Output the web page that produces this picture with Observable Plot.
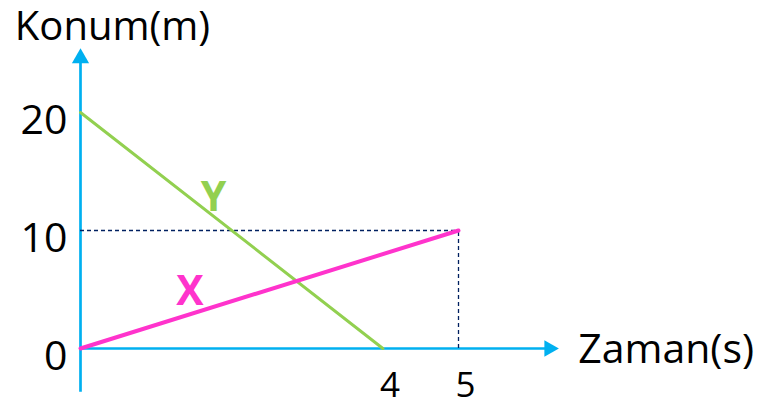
<!DOCTYPE html>
<html><head><meta charset="utf-8">
<script src="https://cdn.jsdelivr.net/npm/d3@7"></script>
<script src="https://cdn.jsdelivr.net/npm/@observablehq/plot@0.6"></script>
<style>body{margin:0;background:#fff} svg{display:block}</style>
</head><body><div id="chart"></div>
<script>
// Data
const timeX = [0, 5];
const posX = [0, 10];
const timeY = [0, 4];
const posY = [20, 0];
const xTickValues = [4, 5];
const yTickValues = [0, 10, 20];
const seriesNames = ["X", "Y"];
const xAxisTitle = "Zaman(s)";
const yAxisTitle = "Konum(m)";

const blue = "#00B0F0", green = "#92D050", pink = "#FF33CC", navy = "#002060";
const FONT = "'Open Sans', sans-serif";

const lineX = timeX.map((t, i) => ({t, p: posX[i]}));
const lineY = timeY.map((t, i) => ({t, p: posY[i]}));

// point along a line at fraction f
const along = (pts, f) => ({t: pts[0].t + (pts[1].t - pts[0].t) * f, p: pts[0].p + (pts[1].p - pts[0].p) * f});
const labelX = {...along(lineX, 0.3), name: seriesNames[0]};
const labelY = {...along(lineY, 0.44), name: seriesNames[1]};

// axis extents (layout)
const xEnd = 6.2, yEnd = 24.6, yStart = -3.7;
const xMax = d3.max(timeX), yMaxRef = posX[posX.length - 1];

const chart = Plot.plot({
  width: 761, height: 406,
  marginLeft: 80, marginRight: 303, marginTop: 112, marginBottom: 58,
  x: {domain: [0, 5], axis: null},
  y: {domain: [0, 20], axis: null},
  style: {fontFamily: FONT, background: "#fff"},
  marks: [
    // axes
    Plot.ruleY([0], {x1: 0, x2: xEnd, stroke: blue, strokeWidth: 2.7}),
    Plot.ruleX([0], {y1: yStart, y2: yEnd, stroke: blue, strokeWidth: 2.7}),
    Plot.dot([{x: 0, y: yEnd}], {x: "x", y: "y", symbol: "triangle", r: 6.4, fill: blue, stroke: "none"}),
    Plot.dot([{x: xEnd, y: 0}], {x: "x", y: "y", symbol: "triangle", r: 6.2, fill: blue, stroke: "none", rotate: 90}),
    // dashed guides
    Plot.ruleY([yMaxRef], {x1: 0, x2: xMax, stroke: navy, strokeWidth: 1.3, strokeDasharray: "4,3"}),
    Plot.ruleX([xMax], {y1: 0, y2: yMaxRef, stroke: navy, strokeWidth: 1.3, strokeDasharray: "4,3"}),
    // lines
    Plot.line(lineY, {x: "t", y: "p", stroke: green, strokeWidth: 3}),
    Plot.line(lineX, {x: "t", y: "p", stroke: pink, strokeWidth: 4}),
    // series labels
    Plot.text([labelX], {x: "t", y: "p", text: "name", fill: pink, fontWeight: "bold", fontSize: 41, dx: -4, dy: -21}),
    Plot.text([labelY], {x: "t", y: "p", text: "name", fill: green, fontWeight: "bold", fontSize: 41, dx: 0, dy: -18}),
    // tick labels
    Plot.text(yTickValues, {x: 0, y: d => d, text: d => String(d), textAnchor: "end", dx: -13, dy: 8, fontSize: 41, fill: "#000"}),
    Plot.text(xTickValues, {x: d => d, y: 0, text: d => String(d), dx: 7, dy: 37, fontSize: 35, fill: "#000"}),
    // axis titles
    Plot.text([xAxisTitle], {x: xEnd, y: 0, text: d => d, textAnchor: "start", dx: 29, dy: 1, fontSize: 41, fill: "#000"}),
    Plot.text([yAxisTitle], {x: 0, y: yEnd, text: d => d, textAnchor: "middle", dx: 32, dy: -31, fontSize: 40, fill: "#000"})
  ]
});
document.getElementById("chart").append(chart);
</script>
</body></html>
